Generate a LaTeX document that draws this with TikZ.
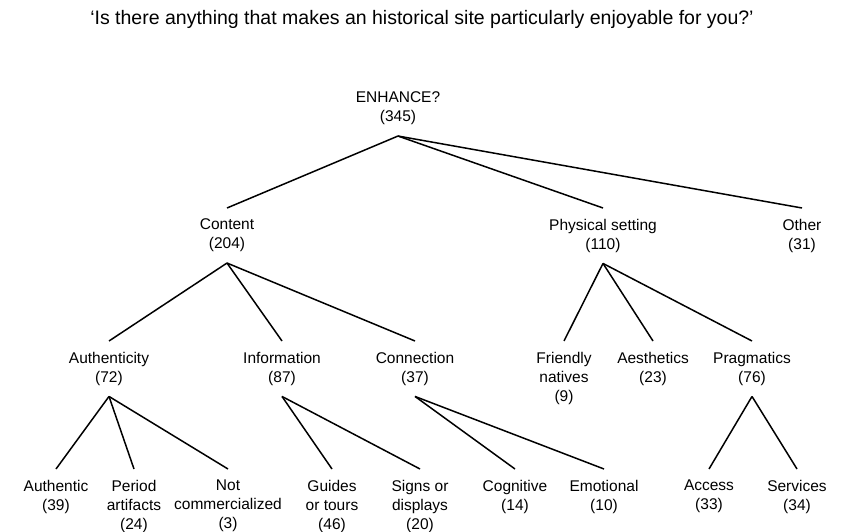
\documentclass[tikz,border=0pt]{standalone}
\usepackage{fontspec}
\setmainfont{Liberation Sans}

\begin{document}
\begin{tikzpicture}[x=1bp,y=-1bp,line width=1.5bp,
                    lbl/.style={align=center,anchor=north,inner sep=0pt,outer ysep=11bp,
                                font=\fontsize{15.5bp}{19bp}\selectfont,
                                execute at begin node=\vphantom{(}}]
  \useasboundingbox (0,0) rectangle (841,532);

  \node[anchor=base,inner sep=0pt,font=\fontsize{19.5bp}{23bp}\selectfont] (title) at (422,25)
    {`Is there anything that makes an historical site particularly enjoyable for you?'};

  \node[lbl] (enh) at (398,81)  {ENHANCE?\\(345)};

  \node[lbl] (con) at (227,208) {Content\\(204)};
  \node[lbl] (phy) at (603,208) {Physical setting\\(110)};
  \node[lbl] (oth) at (802,208) {Other\\(31)};

  \node[lbl] (aut) at (109,341) {Authenticity\\(72)};
  \node[lbl] (inf) at (282,341) {Information\\(87)};
  \node[lbl] (cnx) at (415,341) {Connection\\(37)};
  \node[lbl] (fri) at (564,341) {Friendly\\natives\\(9)};
  \node[lbl] (aes) at (653,341) {Aesthetics\\(23)};
  \node[lbl] (pra) at (752,341) {Pragmatics\\(76)};

  \node[lbl] (authc) at (56,469)  {Authentic\\(39)};
  \node[lbl] (per)   at (134,469) {Period\\artifacts\\(24)};
  \node[lbl] (notc)  at (228,469) {Not\\commercialized\\(3)};
  \node[lbl] (gui)   at (332,469) {Guides\\or tours\\(46)};
  \node[lbl] (sig)   at (420,469) {Signs or\\displays\\(20)};
  \node[lbl] (cog)   at (515,469) {Cognitive\\(14)};
  \node[lbl] (emo)   at (604,469) {Emotional\\(10)};
  \node[lbl] (acc)   at (709,469) {Access\\(33)};
  \node[lbl] (ser)   at (797,469) {Services\\(34)};

  \path (enh.south) edge (con.north) edge (phy.north) edge (oth.north)
        (con.south) edge (aut.north) edge (inf.north) edge (cnx.north)
        (phy.south) edge (fri.north) edge (aes.north) edge (pra.north)
        (aut.south) edge (authc.north) edge (per.north) edge (notc.north)
        (inf.south) edge (gui.north) edge (sig.north)
        (cnx.south) edge (cog.north) edge (emo.north)
        (pra.south) edge (acc.north) edge (ser.north);
\end{tikzpicture}
\end{document}
